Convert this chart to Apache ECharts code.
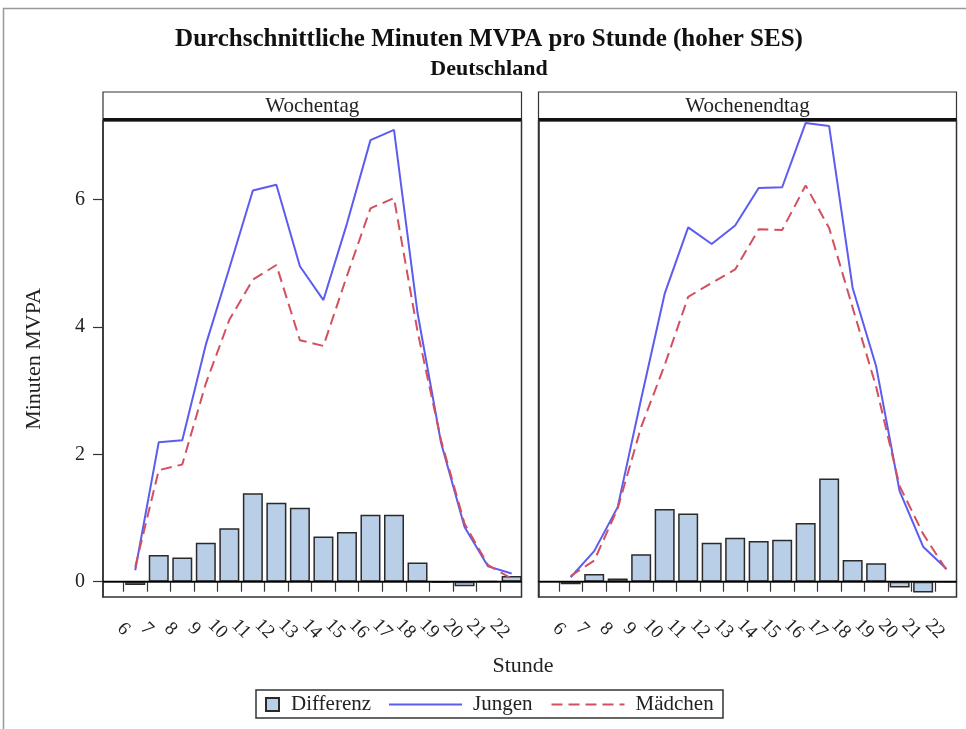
<!DOCTYPE html>
<html>
<head>
<meta charset="utf-8">
<title>Durchschnittliche Minuten MVPA pro Stunde (hoher SES)</title>
<script src="https://cdn.jsdelivr.net/npm/echarts@6/dist/echarts.min.js"></script>
<style>
  html, body { margin: 0; padding: 0; background: #fff; }
  #chart { width: 966px; height: 729px; }
</style>
</head>
<body>
<div id="chart"></div>
<script>
// hour of day (each value belongs to the hour slot starting there)
var hours = [6, 7, 8, 9, 10, 11, 12, 13, 14, 15, 16, 17, 18, 19, 20, 21, 22];
var yTicks = [0, 2, 4, 6];

// Wochentag
var weekdayDiff  = [-0.05, 0.42, 0.38, 0.61, 0.84, 1.39, 1.24, 1.16, 0.71, 0.78, 1.05, 1.05, 0.30, -0.02, -0.07, 0.01, 0.09];
var weekdayBoys  = [0.18, 2.19, 2.22, 3.72, 4.92, 6.14, 6.23, 4.95, 4.42, 5.62, 6.93, 7.09, 4.22, 2.18, 0.86, 0.24, 0.13];
var weekdayGirls = [0.23, 1.75, 1.84, 3.11, 4.11, 4.74, 4.97, 3.79, 3.70, 4.80, 5.86, 6.02, 3.93, 2.22, 0.91, 0.26, 0.05];

// Wochenendtag
var weekendDiff  = [-0.04, 0.12, 0.05, 0.43, 1.14, 1.07, 0.61, 0.69, 0.64, 0.66, 0.92, 1.62, 0.34, 0.29, -0.09, -0.17, 0.0];
var weekendBoys  = [0.07, 0.48, 1.17, 2.87, 4.52, 5.56, 5.30, 5.59, 6.18, 6.19, 7.20, 7.15, 4.61, 3.38, 1.42, 0.55, 0.20];
var weekendGirls = [0.09, 0.33, 1.15, 2.43, 3.40, 4.47, 4.69, 4.90, 5.53, 5.52, 6.22, 5.55, 4.30, 3.06, 1.50, 0.75, 0.18];

var FONT = '"Liberation Serif", "Times New Roman", serif';
var BLUE = '#5c5cf0';
var RED = '#d2505f';

// labels are split over two axes so the rotated ones don't get auto-hidden
var evenHours = hours.filter(function (h) { return h % 2 === 0; });
var oddHours = hours.filter(function (h) { return h % 2 === 1; });

// put each value in the middle of its hour slot
function slot(vals) {
  return vals.map(function (v, i) { return [hours[i] + 0.5, v]; });
}

function xAxisFor(gridIndex, labelValues, main) {
  return {
    type: 'value', gridIndex: gridIndex, min: 5.13, max: 22.92, position: 'bottom', offset: 0,
    axisLine: { show: main, lineStyle: { color: '#333', width: 1.5 } },
    axisTick: { show: main, customValues: hours, length: 10, lineStyle: { color: '#333', width: 1.2 } },
    axisLabel: {
      customValues: labelValues, rotate: -45, margin: 32, align: 'center', verticalAlign: 'middle',
      fontFamily: FONT, fontSize: 19, color: '#222'
    },
    splitLine: { show: false }
  };
}

function yAxisFor(gridIndex, withLabels) {
  var ax = {
    type: 'value', gridIndex: gridIndex, min: -0.24, max: 7.23,
    axisLine: { show: true, lineStyle: { color: '#333', width: 1.5 } },
    axisTick: { show: withLabels, customValues: yTicks, length: 10, lineStyle: { color: '#333', width: 1.2 } },
    axisLabel: { show: withLabels, customValues: yTicks, margin: 18, fontFamily: FONT, fontSize: 20, color: '#222' },
    splitLine: { show: false }
  };
  if (withLabels) {
    ax.name = 'Minuten MVPA';
    ax.nameLocation = 'middle';
    ax.nameGap = 58;
    ax.nameTextStyle = { fontFamily: FONT, fontSize: 22, color: '#222' };
  }
  return ax;
}

function panelSeries(xIdx, yIdx, diff, boys, girls) {
  return [
    {
      name: 'Differenz', type: 'bar', xAxisIndex: xIdx, yAxisIndex: yIdx,
      data: slot(diff), barWidth: 20,
      itemStyle: { color: '#b9cfe8', borderColor: '#2a2a2a', borderWidth: 1.5 },
      markLine: {
        silent: true, symbol: ['none', 'none'], label: { show: false },
        lineStyle: { color: '#000', width: 1.3, type: 'solid' },
        data: [{ yAxis: 0 }]
      }
    },
    {
      name: 'Jungen', type: 'line', xAxisIndex: xIdx, yAxisIndex: yIdx,
      data: slot(boys), symbol: 'none',
      lineStyle: { color: BLUE, width: 2 }, itemStyle: { color: BLUE }
    },
    {
      name: 'Mädchen', type: 'line', xAxisIndex: xIdx, yAxisIndex: yIdx,
      data: slot(girls), symbol: 'none',
      lineStyle: { color: RED, width: 2, type: [11, 6] }, itemStyle: { color: RED }
    }
  ];
}

function header(x, w, label) {
  return [
    { type: 'rect', shape: { x: x, y: 92, width: w, height: 28 },
      style: { fill: '#fff', stroke: '#333', lineWidth: 1.2 } },
    { type: 'line', shape: { x1: x, y1: 119.5, x2: x + w, y2: 119.5 },
      style: { stroke: '#111', lineWidth: 3 } },
    { type: 'text', x: x + w / 2, y: 106,
      style: { text: label, fontFamily: FONT, fontSize: 21, fill: '#222', align: 'center', verticalAlign: 'middle' } }
  ];
}

var chart = echarts.init(document.getElementById('chart'), null, { renderer: 'canvas' });

var option = {
  animation: false,
  backgroundColor: '#fff',
  title: [
    { text: 'Durchschnittliche Minuten MVPA pro Stunde (hoher SES)', left: 489, top: 27, textAlign: 'center', padding: 0,
      textStyle: { fontFamily: FONT, fontSize: 25, fontWeight: 'bold', color: '#111' } },
    { text: 'Deutschland', left: 489, top: 58, textAlign: 'center', padding: 0,
      textStyle: { fontFamily: FONT, fontSize: 22, fontWeight: 'bold', color: '#111' } }
  ],
  grid: [
    { left: 103, top: 121, width: 418.5, height: 476, show: true, borderColor: '#333', borderWidth: 1.5, backgroundColor: 'transparent' },
    { left: 538.5, top: 121, width: 418, height: 476, show: true, borderColor: '#333', borderWidth: 1.5, backgroundColor: 'transparent' }
  ],
  xAxis: [
    xAxisFor(0, evenHours, true), xAxisFor(0, oddHours, false),
    xAxisFor(1, evenHours, true), xAxisFor(1, oddHours, false)
  ],
  yAxis: [yAxisFor(0, true), yAxisFor(1, false)],
  legend: [
    { data: ['Differenz'], left: 265, top: 694, padding: 0, selectedMode: false,
      icon: 'rect', itemWidth: 13, itemHeight: 13,
      textStyle: { fontFamily: FONT, fontSize: 21, color: '#222', padding: [0, 0, 0, 7] } },
    { data: ['Jungen', 'Mädchen'], left: 388, top: 694, padding: 0, selectedMode: false,
      itemWidth: 73, itemHeight: 14, itemGap: 18, itemStyle: { opacity: 0 },
      textStyle: { fontFamily: FONT, fontSize: 21, color: '#222', padding: [0, 0, 0, 6] } }
  ],
  graphic: [
    { type: 'rect', silent: true, shape: { x: 3.5, y: 8.5, width: 1000, height: 800 },
      style: { fill: 'none', stroke: '#999', lineWidth: 1.5 } },
    { type: 'rect', silent: true, shape: { x: 256, y: 690, width: 467, height: 28 },
      style: { fill: 'none', stroke: '#333', lineWidth: 1.5 } },
    { type: 'text', x: 523, y: 666,
      style: { text: 'Stunde', fontFamily: FONT, fontSize: 22, fill: '#222', align: 'center', verticalAlign: 'middle' } }
  ].concat(header(103, 418.5, 'Wochentag'), header(538.5, 418, 'Wochenendtag')),
  series: panelSeries(0, 0, weekdayDiff, weekdayBoys, weekdayGirls)
    .concat(panelSeries(2, 1, weekendDiff, weekendBoys, weekendGirls))
};

chart.setOption(option);
window.addEventListener('resize', function () { chart.resize(); });
</script>
</body>
</html>
